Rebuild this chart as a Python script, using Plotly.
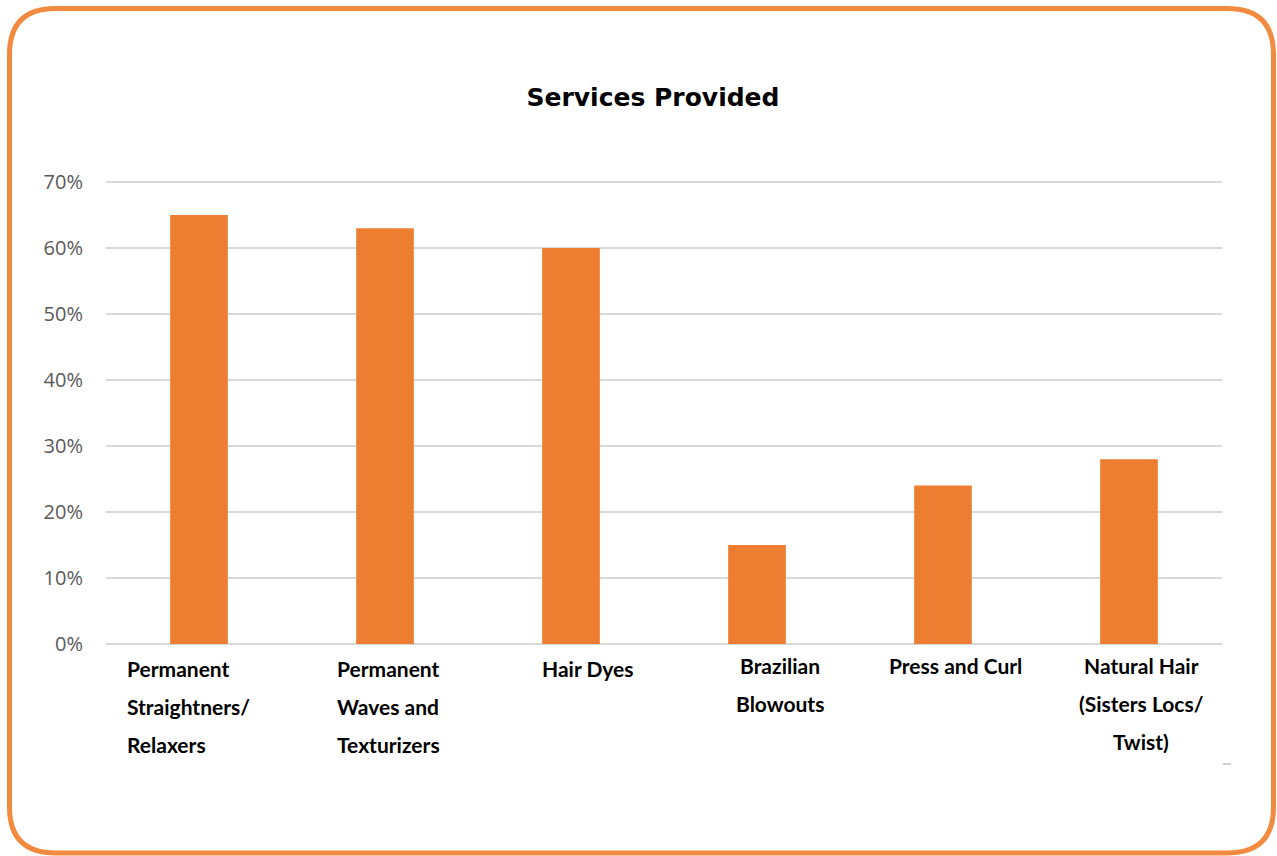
import plotly.graph_objects as go

# Survey data: share of salons offering each service
categories = [
    "Permanent Straightners/ Relaxers",
    "Permanent Waves and Texturizers",
    "Hair Dyes",
    "Brazilian Blowouts",
    "Press and Curl",
    "Natural Hair (Sisters Locs/ Twist)",
]
shares = [0.65, 0.63, 0.60, 0.15, 0.24, 0.28]

# Wrapped category labels, one entry per line
label_lines = [
    ["Permanent", "Straightners/", "Relaxers"],
    ["Permanent", "Waves and", "Texturizers"],
    ["Hair Dyes"],
    ["Brazilian", "Blowouts"],
    ["Press and Curl"],
    ["Natural Hair", "(Sisters Locs/", "Twist)"],
]
y_ticks = [0, 0.1, 0.2, 0.3, 0.4, 0.5, 0.6, 0.7]

W, H = 1277, 856
PX_PER_UNIT = 660          # vertical pixels per 100 %
HEADROOM = 5               # pixels above the 70 % line so it is drawn
ML, MR, MB = 106, 55, 212
MT = 182 - HEADROOM
PW, PH = W - ML - MR, H - MT - MB
Y_TOP = 0.7 + HEADROOM / PX_PER_UNIT

BAR = "#ED7D31"
FRAME = "#F28A3F"
GRID = "#D9D9D9"

fig = go.Figure(
    go.Bar(
        x=categories,
        y=shares,
        marker=dict(color=BAR, line=dict(width=0)),
        hoverinfo="x+y",
    )
)


def P(xp, yp):
    """Pixel position -> 'x,y' in paper coordinates."""
    return f"{(xp - ML) / PW:.5f},{(H - MB - yp) / PH:.5f}"


# Rounded orange frame around the whole chart
x0, y0, x1, y1, r = 9.5, 8.5, 1273.5, 853.0, 46
frame_path = (
    f"M {P(x0 + r, y0)} L {P(x1 - r, y0)} Q {P(x1, y0)} {P(x1, y0 + r)} "
    f"L {P(x1, y1 - r)} Q {P(x1, y1)} {P(x1 - r, y1)} "
    f"L {P(x0 + r, y1)} Q {P(x0, y1)} {P(x0, y1 - r)} "
    f"L {P(x0, y0 + r)} Q {P(x0, y0)} {P(x0 + r, y0)} Z"
)

shapes = [
    dict(type="path", xref="paper", yref="paper", path=frame_path,
         line=dict(color=FRAME, width=5), fillcolor="rgba(0,0,0,0)", layer="above"),
    dict(type="path", xref="paper", yref="paper",
         path=f"M {P(1223, 764)} L {P(1231, 764)}",
         line=dict(color="#D0D0D0", width=2)),
]

# Category labels placed under each bar
label_style = [
    dict(anchor="left", shift=-74, top=24),
    dict(anchor="left", shift=-50, top=24),
    dict(anchor="center", shift=16, top=24),
    dict(anchor="center", shift=23, top=21),
    dict(anchor="center", shift=12, top=21),
    dict(anchor="center", shift=12, top=21),
]
annotations = []
for cat, lines, st in zip(categories, label_lines, label_style):
    for i, line in enumerate(lines):
        annotations.append(dict(
            x=cat, xref="x", y=0, yref="paper",
            text=line, showarrow=False,
            xanchor=st["anchor"], yanchor="middle",
            xshift=st["shift"], yshift=-(st["top"] + 38 * i),
            font=dict(family="Lato", size=21, color="#000000", weight="bold"),
        ))

fig.update_layout(
    width=W, height=H,
    margin=dict(l=ML, r=MR, t=MT, b=MB),
    paper_bgcolor="white", plot_bgcolor="white",
    title=dict(
        text="Services Provided",
        x=653 / W, xanchor="center", xref="container",
        y=1 - 97 / H, yanchor="middle", yref="container",
        font=dict(family="DejaVu Sans", size=25, color="#000000", weight="bold"),
    ),
    bargap=0.69,
    showlegend=False,
    shapes=shapes,
    annotations=annotations,
)
fig.update_xaxes(showticklabels=False, showline=False, showgrid=False,
                 zeroline=False, ticks="")
fig.update_yaxes(
    range=[0, Y_TOP], tickvals=y_ticks, tickformat=".0%",
    showgrid=True, gridcolor=GRID, gridwidth=1.5,
    zeroline=True, zerolinecolor=GRID, zerolinewidth=2,
    showline=False, ticks="", ticklabelstandoff=22,
    tickfont=dict(family="Open Sans", size=20, color="#595959"),
)

fig.write_html("out.html")
